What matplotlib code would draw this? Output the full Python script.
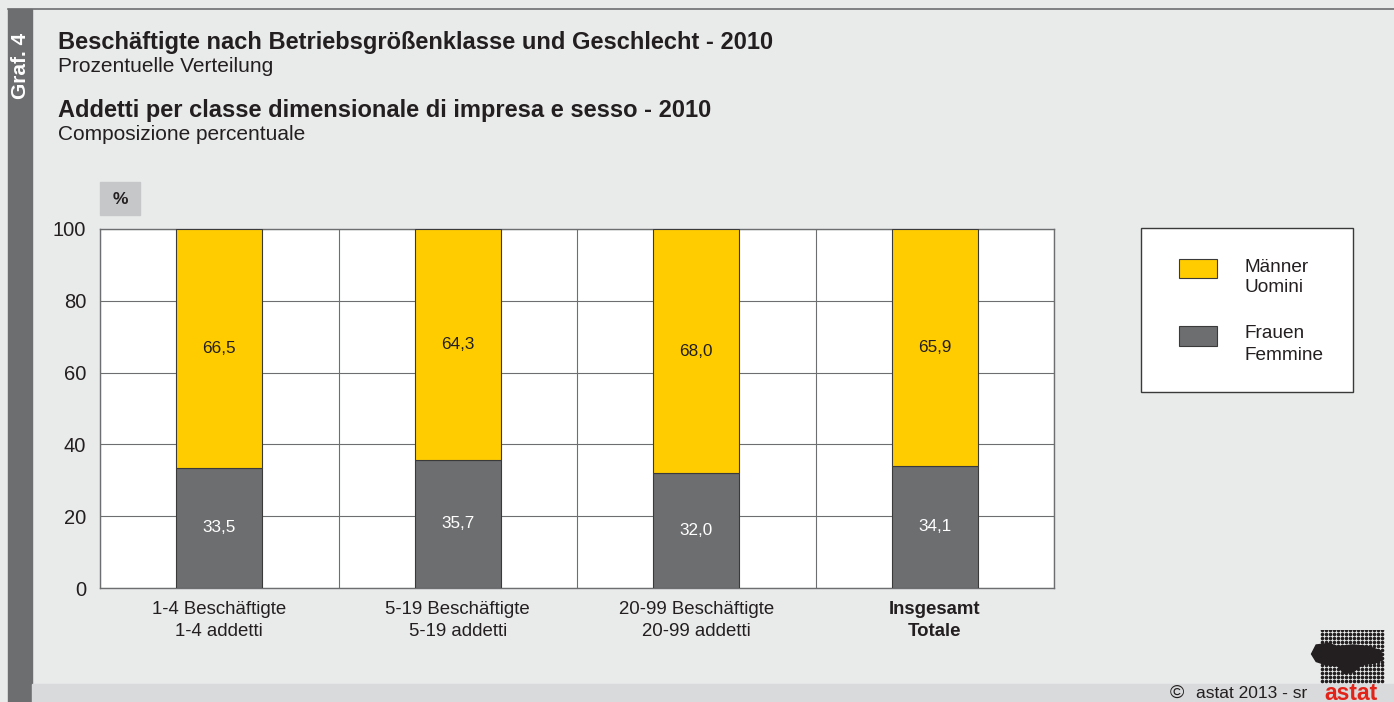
import numpy as np
import matplotlib

matplotlib.use("Agg")
import matplotlib.pyplot as plt
from matplotlib.patches import Rectangle, Polygon

plt.rcParams["font.family"] = ["Liberation Sans", "DejaVu Sans"]

# data
categories_de = ["1-4 Beschäftigte", "5-19 Beschäftigte", "20-99 Beschäftigte", "Insgesamt"]
categories_it = ["1-4 addetti", "5-19 addetti", "20-99 addetti", "Totale"]
frauen = [33.5, 35.7, 32.0, 34.1]
maenner = [66.5, 64.3, 68.0, 65.9]
y_ticks = [0, 20, 40, 60, 80, 100]

YELLOW = "#ffcc00"
GRAY = "#6d6e70"
BG = "#e9eaea"
TXT = "#231f20"

W, H = 1394, 702
fig = plt.figure(figsize=(W / 100, H / 100), dpi=100, facecolor=BG)


def fx(px):
    return px / W


def fy(py):
    return 1 - py / H


# frame: left strip, top border, footer band
fig.add_artist(Rectangle((fx(8), 0), fx(24), fy(9), transform=fig.transFigure, color="#6d6e70", zorder=0))
fig.add_artist(Rectangle((fx(32), 0), 1, fy(684), transform=fig.transFigure, color="#d9dadb", zorder=0))
fig.add_artist(plt.Line2D([fx(8), 1], [fy(9), fy(9)], transform=fig.transFigure, color="#6d6e70", lw=1.2))
fig.text(fx(20), fy(66), "Graf. 4", rotation=90, ha="center", va="center", color="white",
         fontsize=15, fontweight="bold")

fig.text(fx(58), fy(42), "Beschäftigte nach Betriebsgrößenklasse und Geschlecht - 2010",
         fontsize=17, fontweight="bold", color=TXT, va="center")
fig.text(fx(58), fy(67), "Prozentuelle Verteilung", fontsize=15, color=TXT, va="center")
fig.text(fx(58), fy(110), "Addetti per classe dimensionale di impresa e sesso - 2010",
         fontsize=17, fontweight="bold", color=TXT, va="center")
fig.text(fx(58), fy(135), "Composizione percentuale", fontsize=15, color=TXT, va="center")

# % box
fig.add_artist(Rectangle((fx(100), fy(215)), fx(40), fy(182) - fy(215), transform=fig.transFigure,
                         color="#c6c7c9", zorder=1))
fig.text(fx(120), fy(200), "%", ha="center", va="center", fontsize=12.5, fontweight="bold", color=TXT)

# main axes
ax = fig.add_axes([fx(100), fy(588), fx(1054) - fx(100), fy(229) - fy(588)])
ax.set_facecolor("white")
x = np.arange(len(categories_de))
ax.bar(x, frauen, width=0.36, color=GRAY, edgecolor="#3a3a3a", linewidth=0.8, zorder=3)
ax.bar(x, maenner, width=0.36, bottom=frauen, color=YELLOW, edgecolor="#3a3a3a", linewidth=0.8, zorder=3)

for xi, f, m in zip(x, frauen, maenner):
    ax.text(xi, f / 2, f"{f:.1f}".replace(".", ","), ha="center", va="center",
            fontsize=12.3, color="white", zorder=4)
    ax.text(xi, f + m / 2, f"{m:.1f}".replace(".", ","), ha="center", va="center",
            fontsize=12.3, color=TXT, zorder=4)

ax.set_xlim(-0.5, len(x) - 0.5)
ax.set_ylim(0, 100)
ax.set_yticks(y_ticks)
ax.set_yticklabels([str(v) for v in y_ticks], fontsize=14.5, color=TXT)
ax.tick_params(axis="y", length=0, pad=10)
ax.tick_params(axis="x", length=0)
ax.set_xticks([])
for xv in np.arange(-0.5, len(x), 1.0):
    ax.axvline(xv, color="#6d6e70", lw=0.8, zorder=1)
for yv in y_ticks:
    ax.axhline(yv, color="#6d6e70", lw=0.8, zorder=1)
for s in ax.spines.values():
    s.set_color("#6d6e70")
    s.set_linewidth(1.0)

for xi, de, it in zip(x, categories_de, categories_it):
    weight = "bold" if de == "Insgesamt" else "normal"
    ax.text(xi, -6.1, de, ha="center", va="center", fontsize=13.4, color=TXT, fontweight=weight)
    ax.text(xi, -12.0, it, ha="center", va="center", fontsize=13.4, color=TXT, fontweight=weight)

# legend
fig.add_artist(Rectangle((fx(1141), fy(392)), fx(212), fy(228) - fy(392), transform=fig.transFigure,
                         facecolor="white", edgecolor="#3a3a3a", lw=1.0))
fig.add_artist(Rectangle((fx(1179), fy(278)), fx(38), fy(259) - fy(278), transform=fig.transFigure,
                         facecolor=YELLOW, edgecolor="#3a3a3a", lw=0.8))
fig.add_artist(Rectangle((fx(1179), fy(346)), fx(38), fy(326) - fy(346), transform=fig.transFigure,
                         facecolor=GRAY, edgecolor="#3a3a3a", lw=0.8))
fig.text(fx(1244), fy(267), "Männer", fontsize=13.7, color=TXT, va="center")
fig.text(fx(1244), fy(288), "Uomini", fontsize=13.7, color=TXT, va="center")
fig.text(fx(1244), fy(334), "Frauen", fontsize=13.7, color=TXT, va="center")
fig.text(fx(1244), fy(355), "Femmine", fontsize=13.7, color=TXT, va="center")

# footer
fig.text(fx(1170), fy(693), "©", fontsize=14, color=TXT, va="center")
fig.text(fx(1196), fy(693), "astat 2013 - sr", fontsize=12.5, color=TXT, va="center")
fig.text(fx(1351), fy(693), "astat", fontsize=16.5, fontweight="bold", color="#e2231a",
         ha="center", va="center")

# logo: dot grid over a dark blob
lx = fig.add_axes([fx(1310), fy(684), fx(74), fy(630) - fy(684)])
lx.axis("off")
lx.set_xlim(0, 24)
lx.set_ylim(0, 18)
lx.add_patch(Polygon([(0.5, 10), (2, 13), (6, 13.5), (9, 12.5), (14, 13), (19, 12.5), (23, 11),
                      (23.5, 8), (21, 7), (17, 6.5), (14, 4), (11, 3.5), (9, 6), (5, 6.5),
                      (2, 7.5)], closed=True, color="#231f20"))
gx, gy = np.meshgrid(np.arange(4, 24, 1.3), np.arange(1, 18, 1.3))
lx.scatter(gx.ravel(), gy.ravel(), s=2.5, color="#231f20")

fig.savefig("out.png", dpi=100, facecolor=BG)
